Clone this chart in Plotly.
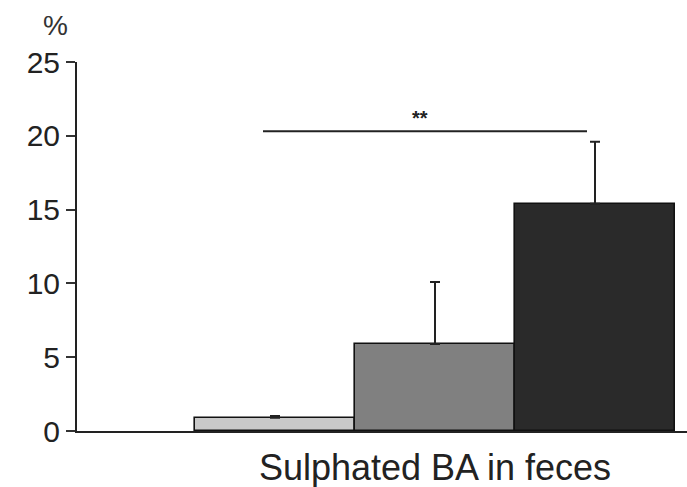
import plotly.graph_objects as go

# Sulphated bile acids in feces, % of total (mean + SD), three groups
groups = [0, 1, 2]
values = [0.9, 5.9, 15.4]
errors_up = [0.12, 4.2, 4.2]
bar_colors = ["#c9c9c9", "#808080", "#2a2a2a"]
category_label = "Sulphated BA in feces"
y_ticks = [0, 5, 10, 15, 20, 25]

# significance bracket between group 0 and group 2
sig_x = [-0.075, 1.95]
sig_y = 20.3
sig_text = "**"

fig = go.Figure()
fig.add_trace(go.Bar(
    x=groups,
    y=values,
    width=1.0,
    marker=dict(color=bar_colors, line=dict(color="#111111", width=1.6)),
    error_y=dict(type="data", symmetric=False, array=errors_up,
                 arrayminus=[0, 0, 0], color="#222222", thickness=2, width=5),
    showlegend=False,
))

fig.add_shape(type="line", xref="x", yref="y",
              x0=sig_x[0], x1=sig_x[1], y0=sig_y, y1=sig_y,
              line=dict(color="#222222", width=2))
fig.add_annotation(x=0.906, y=sig_y, xref="x", yref="y", text="<b>" + sig_text + "</b>",
                   showarrow=False, yanchor="bottom", yshift=0,
                   font=dict(size=20, color="#222222", family="Liberation Sans, Arial"))
# "%" unit label above the y-axis
fig.add_annotation(x=(55 - 77) / 610, y=(431 - 25) / 369, xref="paper", yref="paper",
                   text="%", showarrow=False, xanchor="center", yanchor="middle",
                   font=dict(size=28, color="#333333", family="Liberation Sans, Arial"))

fig.update_layout(
    width=687, height=487,
    margin=dict(l=77, r=0, t=62, b=56),
    paper_bgcolor="white", plot_bgcolor="white",
    bargap=0,
    font=dict(family="Liberation Sans, Arial", color="#222222"),
)
fig.update_xaxes(
    range=[-1.2375, 2.575],
    showgrid=False, zeroline=False,
    showline=True, linecolor="#222222", linewidth=2,
    tickvals=[1], ticktext=[category_label], ticks="",
    ticklabelstandoff=4,
    tickfont=dict(size=36, color="#222222"),
)
fig.update_yaxes(
    range=[0, 25],
    tickvals=y_ticks,
    showgrid=False, zeroline=False,
    showline=True, linecolor="#222222", linewidth=2,
    ticks="outside", ticklen=9, tickwidth=1.5, tickcolor="#333333",
    tickfont=dict(size=30, color="#222222"),
)

fig.write_html("out.html")
